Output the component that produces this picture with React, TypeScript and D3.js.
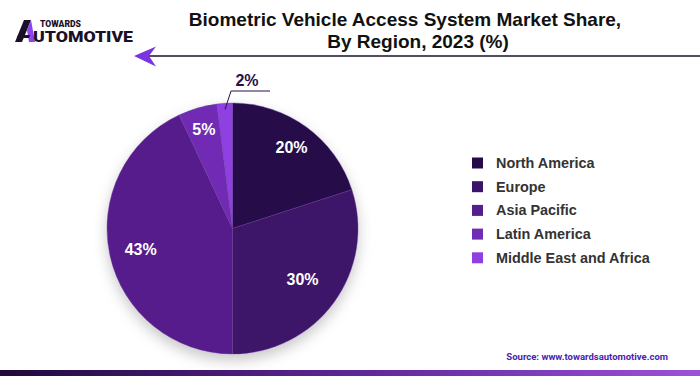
import React from "react";
import * as d3 from "d3";

const regions = ["North America", "Europe", "Asia Pacific", "Latin America", "Middle East and Africa"];
const shares = [20, 30, 43, 5, 2];
const colors = ["#260a48", "#3c136a", "#561d8c", "#6f2cb4", "#8f3fe0"];
const titleLines = ["Biometric Vehicle Access System Market Share,", "By Region, 2023 (%)"];
const sourceText = "Source: www.towardsautomotive.com";

export default function App() {
  const W = 700, H = 376;
  const cx = 232.5, cy = 228.5, r = 125.5;
  const labelRadius = [0.8, 0.69, 0.75, 0.82];
  const data = regions.map((name, i) => ({ name, value: shares[i], color: colors[i] }));
  const pie = d3.pie<any>().value((d: any) => d.value).sort(null);
  const arcs = pie(data);
  const arc = d3.arc<any>().innerRadius(0).outerRadius(r);
  const outerArc = d3.arc<any>().innerRadius(r * 0.95).outerRadius(r * 0.95);

  return (
    <svg width={W} height={H} style={{ position: "absolute", left: 0, top: 0, background: "#fff" }}>
      <defs>
        <linearGradient id="bar" x1="0" x2="1" y1="0" y2="0">
          <stop offset="0" stopColor="#1f0a3a" />
          <stop offset="0.5" stopColor="#5e2596" />
          <stop offset="1" stopColor="#9a52d9" />
        </linearGradient>
        <filter id="shadow" x="-30%" y="-30%" width="160%" height="160%">
          <feDropShadow dx="0" dy="6" stdDeviation="7" floodColor="#000" floodOpacity="0.22" />
        </filter>
      </defs>

      {/* Logo */}
      <g>
        <polygon points="15,42 24,20 31,20 27,30 22,42" fill="#1a1028" />
        <polygon points="27,30 31,20 35,42 29,42" fill="#8a45ee" />
        <polygon points="18,35 30,35 29,38 17,38" fill="#1a1028" />
        <text x={40} y={27} fontFamily="Roboto, Arial, sans-serif" fontWeight={900} fontSize={8.6} fill="#1a1028">TOWARDS</text>
        <text x={33} y={42} fontFamily="Roboto, Arial, sans-serif" fontWeight={900} fontSize={15.2} fill="#1a1028" textLength={100} lengthAdjust="spacingAndGlyphs">UTOMOTIVE</text>
      </g>

      {/* Title */}
      <g fontFamily="Liberation Sans, Arial, sans-serif" fontWeight={700} fontSize={19} fill="#111" textAnchor="middle">
        <text x={405} y={26}>{titleLines[0]}</text>
        <text x={418} y={48}>{titleLines[1]}</text>
      </g>

      {/* Arrow line */}
      <line x1={148} y1={56} x2={700} y2={56} stroke="#1a1028" strokeWidth={1.6} />
      <polygon points="134,56 156,46.5 149,56 156,66.5" fill="#7a35e0" />

      {/* Pie */}
      <g transform={`translate(${cx},${cy})`}>
        <g filter="url(#shadow)">
          {arcs.map((a, i) => (
            <path key={i} d={arc(a) as string} fill={a.data.color} stroke="#6a3a9a" strokeWidth={0.4} />
          ))}
        </g>
        {arcs.map((a, i) => {
          if (a.data.value < 3) {
            const p1 = outerArc.centroid(a);
            const p2: [number, number] = [p1[0] + 6, -r - 12];
            const p3: [number, number] = [p2[0] + 39, p2[1]];
            return (
              <g key={"l" + i}>
                <polyline points={`${p1[0]},${p1[1]} ${p2[0]},${p2[1]} ${p3[0]},${p3[1]}`} fill="none" stroke="#2a1048" strokeWidth={1} />
                <text x={p2[0] + 16} y={p2[1] - 5} textAnchor="middle" fontFamily="Liberation Sans, Arial, sans-serif" fontWeight={700} fontSize={16} fill="#2a1048">{a.data.value}%</text>
              </g>
            );
          }
          const lr = r * labelRadius[i];
          const [x, y] = d3.arc<any>().innerRadius(lr).outerRadius(lr).centroid(a);
          return (
            <text key={"l" + i} x={x} y={y} dy="0.35em" textAnchor="middle" fontFamily="Liberation Sans, Arial, sans-serif" fontWeight={700} fontSize={16} fill="#fff">{a.data.value}%</text>
          );
        })}
      </g>

      {/* Legend */}
      <g fontFamily="Liberation Sans, Arial, sans-serif" fontWeight={700} fontSize={14.4} fill="#333">
        {data.map((d, i) => (
          <g key={i} transform={`translate(472,${163 + i * 23.7})`}>
            <rect x={0} y={-5.5} width={11} height={11} fill={d.color} />
            <text x={24} y={0} dy="0.35em">{d.name}</text>
          </g>
        ))}
      </g>

      {/* Source */}
      <text x={668} y={360} textAnchor="end" fontFamily="Roboto, Arial, sans-serif" fontWeight={700} fontSize={9.5} fill="#4a22b0">{sourceText}</text>

      {/* Bottom bar */}
      <rect x={0} y={370} width={W} height={6} fill="url(#bar)" />
    </svg>
  );
}
